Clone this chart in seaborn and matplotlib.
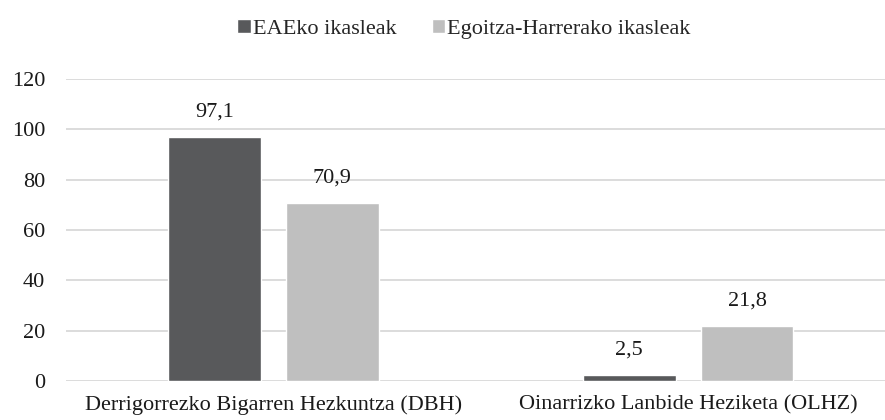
import numpy as np
import pandas as pd
import matplotlib
matplotlib.use("Agg")
import matplotlib.pyplot as plt
import seaborn as sns

categories = ["Derrigorrezko Bigarren Hezkuntza (DBH)", "Oinarrizko Lanbide Heziketa (OLHZ)"]
series = ["EAEko ikasleak", "Egoitza-Harrerako ikasleak"]
eae = [97.1, 2.5]
egoitza = [70.9, 21.8]
colors = ["#58595b", "#bfbfbf"]

df = pd.DataFrame({
    "cat": categories * 2,
    "series": [series[0]] * 2 + [series[1]] * 2,
    "value": eae + egoitza,
})

sns.set_theme(style="white")
plt.rcParams["font.family"] = ["Liberation Serif", "DejaVu Serif"]
FS = 16

fig = plt.figure(figsize=(8.85, 4.2), dpi=100)
ax = fig.add_axes([0.0746, 0.093, 0.9254, 0.719])

sns.barplot(data=df, x="cat", y="value", hue="series", palette=colors,
            width=0.569, gap=0.212, ax=ax, saturation=1, legend=True)

for cont in ax.containers:
    ax.bar_label(cont, labels=[f"{v:.1f}".replace(".", ",") for v in cont.datavalues],
                 padding=11, fontsize=FS, color="#1a1a1a")

ax.set_ylim(0, 120)
ax.set_yticks(range(0, 121, 20))
ax.set_xlim(-0.5, 1.475)
ax.yaxis.grid(True, color="#d9d9d9", linewidth=1.3)
ax.set_axisbelow(True)
for s in ax.spines.values():
    s.set_visible(False)
ax.set_xlabel("")
ax.set_ylabel("")
ax.tick_params(axis="both", length=0, labelsize=FS, colors="#1a1a1a")
ax.tick_params(axis="y", pad=15)
ax.tick_params(axis="x", pad=10)

handles, labels = ax.get_legend_handles_labels()
ax.legend_.remove()
fig.legend(handles, labels, loc="center", bbox_to_anchor=(464 / 885, 1 - 29 / 420), ncol=2,
           frameon=False, fontsize=FS, handlelength=0.6, handleheight=0.6,
           handletextpad=0.1, columnspacing=1.6)

fig.savefig("out.png", dpi=100)
